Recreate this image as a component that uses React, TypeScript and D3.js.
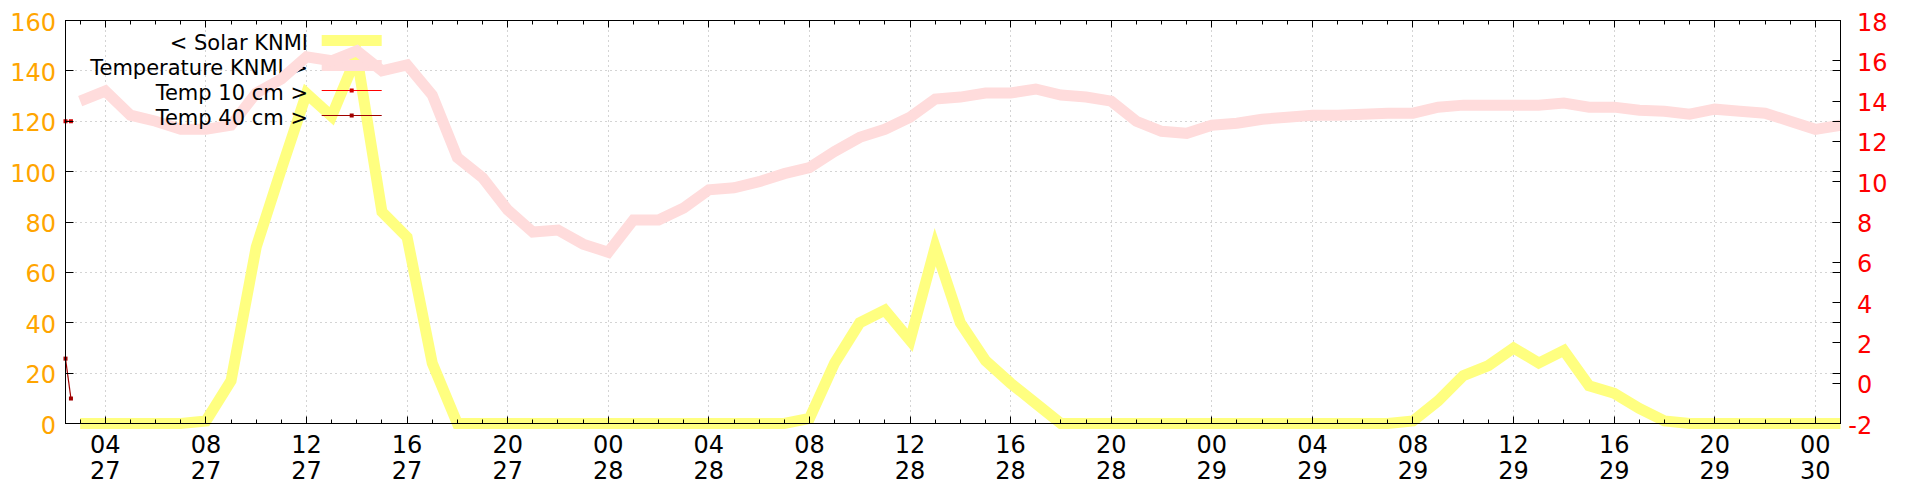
import React from "react";
import * as d3 from "d3";

// Hours counted from day 27 00:00
const SOLAR_FIRST_HOUR = 3; // 27 03:00, hourly
const solarValues = [
  0, 0, 0, 0, 0, 1, 17, 70, 101, 131, 122, 146, 84, 74, 24, 0,
  0, 0, 0, 0, 0, 0, 0, 0, 0, 0, 0, 0, 0, 2, 24, 40, 45, 33, 70, 40, 25, 16, 8, 0,
  0, 0, 0, 0, 0, 0, 0, 0, 0, 0, 0, 0, 0, 1, 9, 19, 23, 30, 24, 29, 15, 12, 6, 1,
  0, 0, 0, 0, 0, 0, 0,
];
const TEMP_FIRST_HOUR = 3;
const temperatureValues = [
  14.0, 14.5, 13.3, 13.0, 12.6, 12.6, 12.8, 14.4, 15.1, 16.2, 16.0, 16.5, 15.5, 15.8, 14.3,
  11.2, 10.2, 8.6, 7.5, 7.6, 6.9, 6.5, 8.1, 8.1, 8.7, 9.6, 9.7, 10.0, 10.4, 10.7, 11.5, 12.2,
  12.6, 13.2, 14.1, 14.2, 14.4, 14.4, 14.6, 14.3, 14.2, 14.0, 13.0, 12.5, 12.4, 12.8, 12.9,
  13.1, 13.2, 13.3, 13.3, 13.35, 13.4, 13.4, 13.7, 13.8, 13.8, 13.8, 13.8, 13.9, 13.7, 13.7,
  13.55, 13.5, 13.35, 13.6, 13.5, 13.4, 13.0, 12.6, 12.8,
];
const temp10Times = ["02:25", "02:38"];
const temp10Values = [13.0, 13.0];
const temp40Times = ["02:25", "02:38"];
const temp40Values = [1.22, -0.76];

const xTickHours = [4, 8, 12, 16, 20, 24, 28, 32, 36, 40, 44, 48, 52, 56, 60, 64, 68, 72];
const xTickTimeLabels = ["04", "08", "12", "16", "20", "00", "04", "08", "12", "16", "20", "00", "04", "08", "12", "16", "20", "00"];
const xTickDayLabels = ["27", "27", "27", "27", "27", "28", "28", "28", "28", "28", "28", "29", "29", "29", "29", "29", "29", "30"];
const yLeftTicks = [0, 20, 40, 60, 80, 100, 120, 140, 160];
const yRightTicks = [-2, 0, 2, 4, 6, 8, 10, 12, 14, 16, 18];
const legendLabels = ["< Solar KNMI", "Temperature KNMI >", "Temp 10 cm >", "Temp 40 cm >"];

const FONT = "DejaVu Sans, sans-serif";
const YELLOW = "#ffff80";
const PINK = "#ffdcdc";
const RED = "#ff0000";
const DARKRED = "#a00000";

type P = { h: number; v: number };

function toHour(t: string) {
  const [hh, mm] = t.split(":").map(Number);
  return hh + mm / 60;
}

export default function App() {
  const solar: P[] = solarValues.map((v, i) => ({ h: SOLAR_FIRST_HOUR + i, v }));
  const temp: P[] = temperatureValues.map((v, i) => ({ h: TEMP_FIRST_HOUR + i, v }));
  const t10: P[] = temp10Values.map((v, i) => ({ h: toHour(temp10Times[i]), v }));
  const t40: P[] = temp40Values.map((v, i) => ({ h: toHour(temp40Times[i]), v }));

  const allH = [...solar, ...temp, ...t10, ...t40].map((d) => d.h);
  const [hMin, hMax] = d3.extent(allH) as [number, number];

  const L = 65.5, R = 1840.5, T = 20.5, B = 423.5;
  const x = d3.scaleLinear().domain([hMin, hMax]).range([L, R]);
  const yL = d3.scaleLinear().domain([0, 160]).range([B, T]);
  const yR = d3.scaleLinear().domain([-2, 18]).range([B, T]);

  const lineL = d3.line<P>().x((d) => x(d.h)).y((d) => yL(d.v));
  const lineR = d3.line<P>().x((d) => x(d.h)).y((d) => yR(d.v));

  const crisp = (v: number) => Math.round(v - 0.5) + 0.5;

  const minorHours = d3.range(Math.ceil(hMin), Math.floor(hMax) + 1);

  const rowY = (i: number) => 40.5 + i * 25;
  const sx1 = 321.7, sx2 = 381.7, sxm = (sx1 + sx2) / 2;

  const legendText = (i: number) => (
    <text x={308} y={rowY(i) + 9} textAnchor="end" fontFamily={FONT} fontSize={21} fill="#000">
      {legendLabels[i]}
    </text>
  );

  return (
    <svg width={1920} height={480} style={{ position: "absolute", left: 0, top: 0, background: "#fff" }}>
      <rect x={0} y={0} width={1920} height={480} fill="#fff" />
      {/* grid */}
      <g stroke="#a8a8a8" strokeWidth={1} strokeDasharray="1,4">
        {xTickHours.map((h) => (
          <line key={"gx" + h} x1={crisp(x(h))} x2={crisp(x(h))} y1={T} y2={B} />
        ))}
        {yLeftTicks.filter((v) => v > 0 && v < 160).map((v) => (
          <line key={"gy" + v} x1={L} x2={R} y1={crisp(yL(v))} y2={crisp(yL(v))} />
        ))}
      </g>

      {/* Solar */}
      {legendText(0)}
      <line x1={sx1} x2={sx2} y1={rowY(0)} y2={rowY(0)} stroke={YELLOW} strokeWidth={11} />
      <path d={lineL(solar) || ""} fill="none" stroke={YELLOW} strokeWidth={11} strokeLinejoin="miter" strokeLinecap="butt" />

      {/* Temperature */}
      {legendText(1)}
      <line x1={sx1} x2={sx2} y1={rowY(1)} y2={rowY(1)} stroke={PINK} strokeWidth={11} />
      <path d={lineR(temp) || ""} fill="none" stroke={PINK} strokeWidth={11} strokeLinejoin="miter" strokeLinecap="butt" />

      {/* Temp 10 cm */}
      {legendText(2)}
      <line x1={sx1} x2={sx2} y1={rowY(2)} y2={rowY(2)} stroke={RED} strokeWidth={1.2} />
      <rect x={sxm - 2} y={rowY(2) - 2} width={4} height={4} fill="#d00000" />
      <path d={lineR(t10) || ""} fill="none" stroke={RED} strokeWidth={1.2} />
      {t10.map((d, i) => (
        <rect key={"p10" + i} x={x(d.h) - 2} y={yR(d.v) - 2} width={4} height={4} fill="#d00000" />
      ))}

      {/* Temp 40 cm */}
      {legendText(3)}
      <line x1={sx1} x2={sx2} y1={rowY(3)} y2={rowY(3)} stroke={DARKRED} strokeWidth={1.2} />
      <rect x={sxm - 2} y={rowY(3) - 2} width={4} height={4} fill={DARKRED} />
      <path d={lineR(t40) || ""} fill="none" stroke={DARKRED} strokeWidth={1.2} />
      {t40.map((d, i) => (
        <rect key={"p40" + i} x={x(d.h) - 2} y={yR(d.v) - 2} width={4} height={4} fill={DARKRED} />
      ))}

      {/* border & ticks */}
      <g stroke="#000" strokeWidth={1} fill="none">
        <rect x={L} y={T} width={R - L} height={B - T} />
        {minorHours.map((h) => {
          const len = h % 4 === 0 ? 7 : 4;
          const xx = crisp(x(h));
          return (
            <g key={"xt" + h}>
              <line x1={xx} x2={xx} y1={B} y2={B - len} />
              <line x1={xx} x2={xx} y1={T} y2={T + len} />
            </g>
          );
        })}
        {yLeftTicks.map((v) => {
          const yy = crisp(yL(v));
          return (
            <g key={"yt" + v}>
              <line x1={L} x2={L + 8} y1={yy} y2={yy} />
              <line x1={R} x2={R - 8} y1={yy} y2={yy} />
            </g>
          );
        })}
        {yRightTicks.map((v) => {
          const yy = crisp(yR(v));
          return <line key={"y2t" + v} x1={R} x2={R - 8} y1={yy} y2={yy} />;
        })}
      </g>

      {/* tick labels */}
      <g fontFamily={FONT} fontSize={24}>
        {yLeftTicks.map((v) => (
          <text key={"yl" + v} x={56} y={yL(v) + 10} textAnchor="end" fill="#ffa500">
            {v}
          </text>
        ))}
        {yRightTicks.map((v) => (
          <text key={"yr" + v} x={1857 - (v < 0 ? 8.7 : 0)} y={yR(v) + 10} textAnchor="start" fill={RED}>
            {v}
          </text>
        ))}
        {xTickHours.map((h, i) => (
          <g key={"xl" + h}>
            <text x={x(h)} y={452.7} textAnchor="middle" fill="#000">
              {xTickTimeLabels[i]}
            </text>
            <text x={x(h)} y={479} textAnchor="middle" fill="#000">
              {xTickDayLabels[i]}
            </text>
          </g>
        ))}
      </g>
    </svg>
  );
}
